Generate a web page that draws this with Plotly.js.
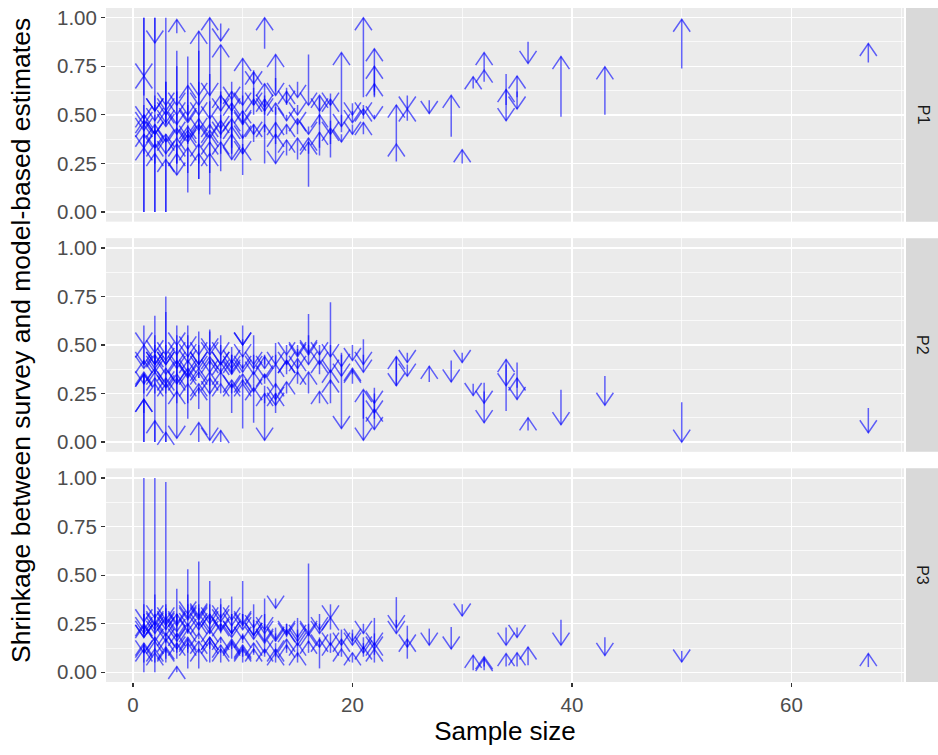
<!DOCTYPE html>
<html>
<head>
<meta charset="utf-8">
<script src="https://cdn.plot.ly/plotly-3.0.1.min.js"></script>
<style>html,body{margin:0;padding:0;background:#fff;}#chart{width:938px;height:755px;}</style>
</head>
<body>
<div id="chart"></div>
<script>
// ---- data: one entry per small area (shared sample sizes across the three parameters) ----
const sampleSize = [
  1,1,1,1,1,1,1,1,
  2,2,2,2,2,2,2,2,
  3,3,3,3,3,3,3,3,
  4,4,4,4,4,4,4,
  5,5,5,5,5,5,5,
  6,6,6,6,6,6,
  7,7,7,7,7,7,
  8,8,8,8,8,
  9,9,9,9,9,
  10,10,10,10,10,
  11,11,11,11,
  12,12,12,12,
  13,13,13,13,
  14,14,14,
  15,15,15,
  16,16,16,
  17,17,17,
  18,18,18,
  19,19,
  20,20,
  21,21,21,
  22,22,22,
  24,24,25,25,27,29,30,31,32,32,34,34,35,35,36,39,43,50,67,
  1,1,1,2,2,2,3,3,3,4,4,4,5,5,5,6,6,6,7,7,7,8,8,8,9,9,9,10,10,10,
  11,11,12,12,13,13,14,14,15,15,16,17,18,19,20,21,22
];

const surveyP1 = [
  1.00,0.00,0.60,0.40,0.00,1.00,0.50,0.38,
  1.00,0.00,0.00,1.00,0.55,0.25,0.60,0.45,
  1.00,0.00,0.00,0.50,0.33,0.67,0.33,0.67,
  0.92,0.83,0.50,0.25,0.75,0.50,0.25,
  0.80,0.10,0.60,0.40,0.20,0.60,0.40,
  0.17,0.33,0.67,0.50,0.17,0.83,
  0.43,0.09,0.57,0.29,0.71,0.43,
  0.21,0.97,0.50,0.38,0.62,
  0.30,0.58,0.44,0.33,0.56,
  0.30,0.19,0.50,0.60,0.40,
  0.55,0.73,0.45,0.64,
  0.84,0.41,0.25,0.58,
  0.62,0.54,0.38,0.69,
  0.64,0.29,0.50,
  0.67,0.27,0.47,
  0.81,0.13,0.44,
  0.33,0.59,0.29,
  0.28,0.47,0.61,
  0.41,0.50,
  0.56,0.45,
  0.59,0.40,0.55,
  0.59,0.62,0.60,
  0.26,0.35,0.60,0.47,0.575,0.387,0.25,0.636,0.67,0.73,0.71,0.55,0.59,0.62,0.876,0.49,0.50,0.739,0.77,
  0.45,0.30,0.55,0.33,0.50,0.40,0.40,0.55,0.45,0.38,0.62,0.30,0.45,0.35,0.55,0.40,0.60,0.25,
  0.35,0.50,0.20,0.45,0.30,0.56,0.50,0.67,0.38,0.45,0.52,0.35,
  0.50,0.36,0.60,0.50,0.50,0.35,0.55,0.40,0.40,0.55,0.30,0.45,0.35,0.40,0.52,0.48,0.50
];
const modelP1 = [
  0.70,0.33,0.70,0.33,0.45,0.48,0.42,0.47,
  0.87,0.30,0.45,0.52,0.40,0.35,0.52,0.40,
  0.55,0.38,0.27,0.44,0.40,0.52,0.30,0.46,
  0.99,0.19,0.45,0.35,0.55,0.40,0.30,
  0.47,0.40,0.50,0.42,0.33,0.65,0.36,
  0.93,0.45,0.55,0.42,0.30,0.60,
  1.00,0.40,0.48,0.36,0.60,0.45,
  0.86,0.88,0.43,0.47,0.52,
  0.62,0.27,0.48,0.40,0.52,
  0.79,0.33,0.46,0.55,0.38,
  0.72,0.66,0.40,0.55,
  1.00,0.66,0.45,0.52,
  0.81,0.25,0.46,0.60,
  0.56,0.37,0.47,
  0.59,0.38,0.45,
  0.55,0.36,0.40,
  0.60,0.52,0.41,
  0.58,0.40,0.55,
  0.82,0.44,
  0.50,0.40,
  1.00,0.46,0.50,
  0.66,0.75,0.84,
  0.35,0.55,0.53,0.53,0.507,0.60,0.32,0.696,0.73,0.82,0.47,0.63,0.70,0.53,0.765,0.80,0.747,0.992,0.867,
  0.50,0.40,0.45,0.42,0.47,0.33,0.36,0.50,0.52,0.43,0.50,0.38,0.38,0.44,0.46,0.48,0.50,0.35,
  0.42,0.38,0.30,0.40,0.36,0.60,0.56,0.58,0.44,0.52,0.45,0.30,
  0.58,0.45,0.54,0.58,0.56,0.40,0.62,0.45,0.48,0.50,0.38,0.50,0.43,0.36,0.46,0.53,0.48
];

const surveyP2 = [
  0.60,0.00,0.45,0.15,0.00,0.50,0.30,0.40,
  0.65,0.00,0.00,0.50,0.25,0.45,0.35,0.55,
  0.75,0.00,0.00,0.33,0.67,0.50,0.33,0.40,
  0.60,0.50,0.25,0.45,0.30,0.55,0.40,
  0.55,0.12,0.40,0.20,0.60,0.35,0.45,
  0.57,0.00,0.33,0.50,0.17,0.42,
  0.58,0.43,0.29,0.57,0.30,0.40,
  0.00,0.50,0.38,0.25,0.55,
  0.49,0.15,0.40,0.30,0.45,
  0.53,0.07,0.45,0.30,0.60,
  0.55,0.10,0.40,0.30,
  0.29,0.45,0.20,0.35,
  0.51,0.15,0.28,0.40,
  0.25,0.50,0.40,
  0.50,0.35,0.42,
  0.66,0.25,0.55,
  0.20,0.50,0.47,
  0.72,0.20,0.50,
  0.46,0.45,
  0.50,0.35,
  0.53,0.12,0.25,
  0.28,0.25,0.22,
  0.29,0.44,0.46,0.40,0.31,0.42,0.46,0.30,0.305,0.26,0.16,0.40,0.41,0.28,0.06,0.27,0.34,0.205,0.176,
  0.45,0.25,0.35,0.30,0.45,0.40,0.45,0.25,0.35,0.35,0.50,0.20,0.30,0.50,0.40,0.45,0.33,0.25,
  0.40,0.50,0.30,0.45,0.35,0.30,0.35,0.45,0.25,0.40,0.30,0.50,
  0.45,0.30,0.40,0.30,0.25,0.45,0.45,0.35,0.30,0.48,0.50,0.35,0.30,0.40,0.30,0.45,0.12
];
const modelP2 = [
  0.50,0.22,0.50,0.22,0.36,0.38,0.35,0.42,
  0.40,0.11,0.33,0.36,0.30,0.40,0.38,0.46,
  0.42,0.30,0.05,0.38,0.45,0.40,0.28,0.35,
  0.02,0.40,0.33,0.38,0.35,0.50,0.30,
  0.36,0.38,0.42,0.30,0.48,0.34,0.41,
  0.38,0.10,0.38,0.45,0.28,0.40,
  0.01,0.36,0.33,0.47,0.25,0.42,
  0.06,0.40,0.36,0.30,0.45,
  0.36,0.30,0.35,0.28,0.41,
  0.50,0.30,0.38,0.32,0.50,
  0.38,0.28,0.35,0.26,
  0.01,0.38,0.25,0.33,
  0.22,0.25,0.30,0.40,
  0.31,0.45,0.42,
  0.45,0.43,0.38,
  0.40,0.36,0.45,
  0.26,0.45,0.40,
  0.36,0.32,0.44,
  0.07,0.39,
  0.42,0.38,
  0.36,0.27,0.01,
  0.20,0.15,0.065,
  0.44,0.29,0.41,0.34,0.39,0.31,0.41,0.24,0.10,0.20,0.425,0.29,0.22,0.33,0.125,0.09,0.19,0.00,0.048,
  0.40,0.35,0.30,0.36,0.38,0.45,0.40,0.33,0.30,0.42,0.45,0.26,0.36,0.44,0.33,0.40,0.36,0.30,
  0.44,0.45,0.36,0.40,0.41,0.36,0.42,0.38,0.32,0.36,0.35,0.44,
  0.40,0.36,0.44,0.35,0.19,0.40,0.40,0.42,0.36,0.44,0.46,0.42,0.37,0.34,0.37,0.40,0.17
];

const surveyP3 = [
  1.00,0.00,0.30,0.10,0.25,0.20,0.35,0.15,
  1.00,0.00,0.30,0.12,0.25,0.05,0.20,0.40,
  0.98,0.07,0.33,0.15,0.25,0.30,0.10,0.20,
  0.43,0.07,0.30,0.20,0.00,0.25,0.15,
  0.53,0.02,0.30,0.20,0.40,0.12,0.25,
  0.57,0.02,0.35,0.17,0.25,0.30,
  0.47,0.05,0.29,0.14,0.35,0.20,
  0.38,0.10,0.25,0.30,0.15,
  0.39,0.07,0.22,0.30,0.15,
  0.47,0.05,0.30,0.20,0.10,
  0.35,0.09,0.20,0.27,
  0.38,0.08,0.25,0.15,
  0.38,0.23,0.08,0.15,
  0.25,0.10,0.18,
  0.28,0.08,0.20,
  0.56,0.10,0.25,
  0.02,0.25,0.18,
  0.35,0.22,0.10,
  0.22,0.08,
  0.20,0.05,
  0.25,0.15,0.08,
  0.28,0.09,0.20,
  0.387,0.27,0.24,0.07,0.225,0.233,0.35,0.01,0.01,0.03,0.23,0.03,0.03,0.23,0.036,0.27,0.18,0.11,0.027,
  0.30,0.05,0.20,0.10,0.30,0.20,0.22,0.05,0.35,0.30,0.10,0.25,0.10,0.35,0.20,0.20,0.10,0.33,
  0.30,0.12,0.25,0.20,0.35,0.05,0.25,0.12,0.30,0.30,0.15,0.08,
  0.25,0.10,0.30,0.20,0.20,0.05,0.25,0.12,0.22,0.05,0.15,0.30,0.20,0.12,0.22,0.18,0.05
];
const modelP3 = [
  0.20,0.15,0.22,0.14,0.18,0.25,0.26,0.10,
  0.28,0.10,0.25,0.18,0.22,0.12,0.16,0.20,
  0.22,0.17,0.27,0.20,0.19,0.24,0.13,0.16,
  0.18,0.20,0.25,0.16,0.03,0.21,0.12,
  0.24,0.18,0.27,0.22,0.28,0.15,0.21,
  0.27,0.12,0.29,0.20,0.24,0.22,
  0.20,0.16,0.25,0.18,0.27,0.22,
  0.22,0.14,0.21,0.26,0.18,
  0.18,0.15,0.20,0.24,0.17,
  0.22,0.12,0.24,0.17,0.14,
  0.19,0.15,0.17,0.23,
  0.16,0.12,0.20,0.10,
  0.33,0.16,0.12,0.10,
  0.19,0.14,0.22,
  0.18,0.15,0.16,
  0.19,0.16,0.20,
  0.17,0.20,0.13,
  0.28,0.28,0.15,
  0.14,0.12,
  0.14,0.10,
  0.20,0.12,0.13,
  0.14,0.15,0.12,
  0.20,0.23,0.13,0.17,0.14,0.12,0.29,0.087,0.08,0.07,0.14,0.096,0.10,0.18,0.13,0.14,0.087,0.053,0.096,
  0.18,0.12,0.24,0.16,0.24,0.26,0.28,0.12,0.25,0.24,0.15,0.30,0.17,0.30,0.25,0.26,0.16,0.28,
  0.22,0.18,0.30,0.25,0.28,0.12,0.20,0.16,0.27,0.25,0.19,0.13,
  0.19,0.12,0.22,0.15,0.17,0.10,0.20,0.17,0.14,0.10,0.20,0.22,0.14,0.17,0.16,0.10,0.12
];

const panelLabels = ['P1','P2','P3'];
const yTickVals = [0, 0.25, 0.5, 0.75, 1];
const yTickText = ['0.00','0.25','0.50','0.75','1.00'];
const xTickVals = [0, 20, 40, 60];

// ---- layout geometry ----
const W = 938, H = 755;
const M = {l: 106, r: 34, t: 8, b: 73};
const xRange = [-2.45, 70.25];
const yRange = [-0.05, 1.05];
const domains = [[0.683, 1], [0.3415, 0.6585], [0, 0.317]];
const plotW = W - M.l - M.r, plotH = H - M.t - M.b;
const pxPerX = plotW / (xRange[1] - xRange[0]);

const arrowColor = 'rgba(0,0,255,0.6)';
const headHalfW = 8.5, headLen = 12.5; // pixels

const series = [[surveyP1, modelP1], [surveyP2, modelP2], [surveyP3, modelP3]];
const traces = [];
series.forEach((pair, p) => {
  const [sv, md] = pair;
  const pxPerY = (domains[p][1] - domains[p][0]) * plotH / (yRange[1] - yRange[0]);
  const dx = headHalfW / pxPerX;
  const suffix = p === 0 ? '' : String(p + 1);
  for (let i = 0; i < sampleSize.length; i++) {
    const x = sampleSize[i], s = sv[i], m = md[i];
    const dir = m >= s ? 1 : -1;
    const dy = dir * headLen / pxPerY;
    traces.push({
      type: 'scatter', mode: 'lines',
      x: [x, x, null, x - dx, x, x + dx],
      y: [s, m, null, m - dy, m, m - dy],
      xaxis: 'x' + suffix, yaxis: 'y' + suffix,
      line: {color: arrowColor, width: 1.5},
      hoverinfo: 'skip', showlegend: false, connectgaps: false
    });
  }
});

const fontFam = '"Liberation Sans", Arial, sans-serif';
function xAxis(p) {
  const bottom = p === 2;
  return {
    domain: [0, 1], range: xRange, anchor: 'y' + (p === 0 ? '' : p + 1),
    tickvals: xTickVals, ticktext: xTickVals.map(String),
    showticklabels: bottom, ticks: bottom ? 'outside' : '', ticklen: 4, tickwidth: 1.3, tickcolor: '#333333',
    tickfont: {family: fontFam, size: 20.5, color: '#4D4D4D'},
    showgrid: true, gridcolor: '#FFFFFF', gridwidth: 1.4,
    minor: {tickvals: [10, 30, 50, 70], showgrid: true, gridcolor: '#FFFFFF', gridwidth: 0.7, ticks: ''},
    zeroline: false, showline: false, fixedrange: true,
    title: bottom ? {text: 'Sample size', font: {family: fontFam, size: 26, color: '#000000'}, standoff: 6} : {text: ''}
  };
}
function yAxis(p) {
  return {
    domain: domains[p], range: yRange, anchor: 'x' + (p === 0 ? '' : p + 1),
    tickvals: yTickVals, ticktext: yTickText,
    ticks: 'outside', ticklen: 4, tickwidth: 1.3, tickcolor: '#333333',
    tickfont: {family: fontFam, size: 20.5, color: '#4D4D4D'},
    showgrid: true, gridcolor: '#FFFFFF', gridwidth: 1.4,
    minor: {tickvals: [0.125, 0.375, 0.625, 0.875], showgrid: true, gridcolor: '#FFFFFF', gridwidth: 0.7, ticks: ''},
    zeroline: false, showline: false, fixedrange: true
  };
}

const shapes = [], annotations = [];
const stripX0 = (906 - M.l) / plotW, stripX1 = (W - M.l) / plotW;
domains.forEach((d, p) => {
  shapes.push({type: 'rect', xref: 'paper', yref: 'paper', x0: stripX0, x1: stripX1 + 0.01, y0: d[0], y1: d[1],
    fillcolor: '#D9D9D9', line: {width: 0}, layer: 'below'});
  annotations.push({xref: 'paper', yref: 'paper', x: (923 - M.l) / plotW, y: (d[0] + d[1]) / 2,
    text: panelLabels[p], showarrow: false, textangle: 90,
    font: {family: fontFam, size: 16, color: '#1A1A1A'}, xanchor: 'center', yanchor: 'middle'});
});
annotations.push({xref: 'paper', yref: 'paper', x: (21 - M.l) / plotW, y: (682 - 341) / plotH,
  text: 'Shrinkage between survey and model-based estimates', showarrow: false, textangle: -90,
  font: {family: fontFam, size: 26.5, color: '#000000'}, xanchor: 'center', yanchor: 'middle'});

const layout = {
  width: W, height: H, margin: M,
  paper_bgcolor: '#FFFFFF', plot_bgcolor: '#EBEBEB',
  showlegend: false, shapes: shapes, annotations: annotations,
  xaxis: xAxis(0), xaxis2: xAxis(1), xaxis3: xAxis(2),
  yaxis: yAxis(0), yaxis2: yAxis(1), yaxis3: yAxis(2)
};

Plotly.newPlot('chart', traces, layout, {staticPlot: true, displayModeBar: false});
</script>
</body>
</html>
